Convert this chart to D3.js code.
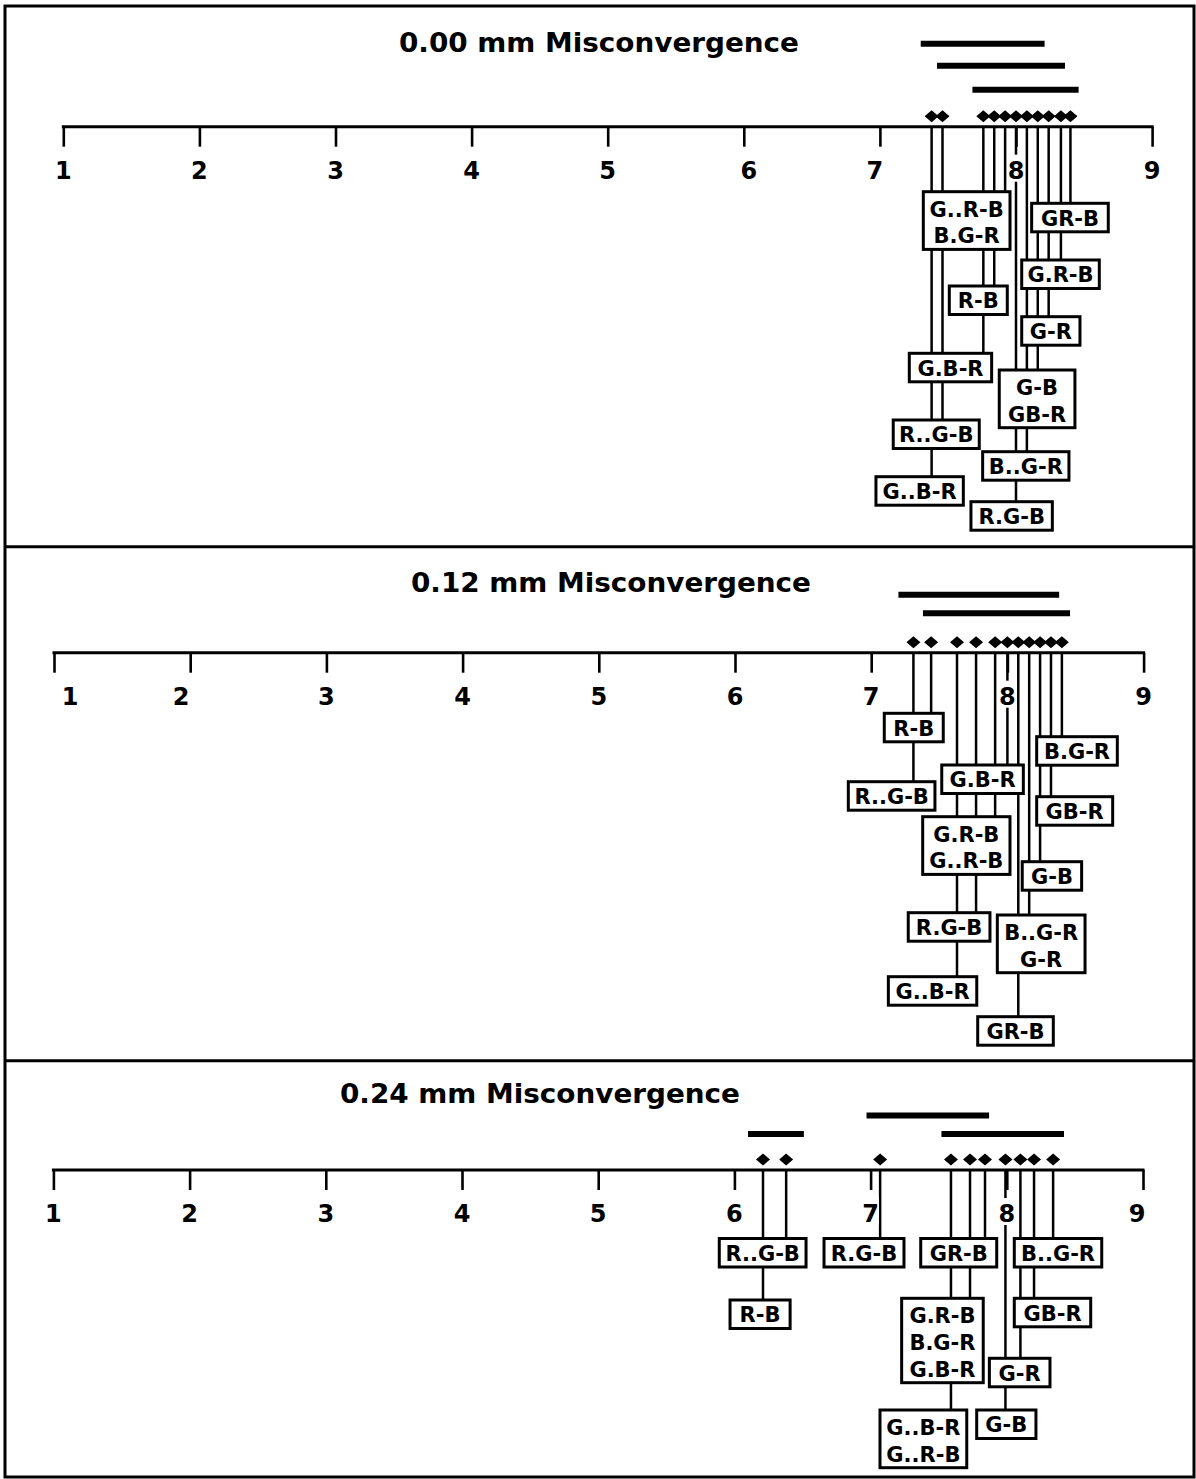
<!DOCTYPE html>
<html><head><meta charset="utf-8">
<script src="https://cdn.jsdelivr.net/npm/d3@7"></script>
<style>body{margin:0;background:#fff}svg{display:block}</style>
</head><body>
<svg id="chart" width="1196" height="1479"></svg>
<script>
// ---------------- DATA ----------------
const axisTicks = [1, 2, 3, 4, 5, 6, 7, 8, 9];
const panelTitles = ["0.00 mm Misconvergence", "0.12 mm Misconvergence", "0.24 mm Misconvergence"];

const p1Conditions = ["G..B-R","R..G-B","G.B-R","R-B","G..R-B","B.G-R","R.G-B","B..G-R","G-B","GB-R","G-R","G.R-B","GR-B"];
const p1Values     = [7.38, 7.46, 7.76, 7.84, 7.92, 7.92, 8.00, 8.08, 8.16, 8.16, 8.24, 8.33, 8.40];
const p1GroupStart = [7.30, 7.42, 7.68];
const p1GroupEnd   = [8.21, 8.36, 8.46];

const p2Conditions = ["R..G-B","R-B","G..B-R","R.G-B","G.R-B","G..R-B","G.B-R","GR-B","B..G-R","G-R","G-B","GB-R","B.G-R"];
const p2Values     = [7.31, 7.44, 7.63, 7.77, 7.91, 7.91, 8.00, 8.08, 8.16, 8.16, 8.24, 8.32, 8.40];
const p2GroupStart = [7.20, 7.38];
const p2GroupEnd   = [8.38, 8.46];

const p3Conditions = ["R-B","R..G-B","R.G-B","G..B-R","G..R-B","G.R-B","B.G-R","G.B-R","GR-B","G-B","G-R","GB-R","B..G-R"];
const p3Values     = [6.21, 6.38, 7.07, 7.59, 7.59, 7.73, 7.73, 7.73, 7.84, 7.99, 8.10, 8.20, 8.34];
const p3GroupStart = [6.10, 6.97, 7.52];
const p3GroupEnd   = [6.51, 7.87, 8.42];

// ---------------- LAYOUT (annotation placement, not data) ----------------
const layout = [
  { top: 6, bottom: 546.7, axisY: 126.7, range: [63.3, 1152.1], titleX: 399, titleY: 51.7,
    barRise: [83, 61, 37], labelNudge: {6: 5, 7: -5},
    boxes: [
      {labels: ["G..R-B","B.G-R"], x0: 7.319, x1: 7.956, dy: 65},
      {labels: ["GR-B"],  x0: 8.115, x1: 8.678, dy: 76.6},
      {labels: ["G.R-B"], x0: 8.042, x1: 8.612, dy: 133.3},
      {labels: ["R-B"],   x0: 7.510, x1: 7.936, dy: 159.3},
      {labels: ["G-R"],   x0: 8.042, x1: 8.470, dy: 190},
      {labels: ["G.B-R"], x0: 7.216, x1: 7.821, dy: 226.6},
      {labels: ["G-B","GB-R"], x0: 7.877, x1: 8.433, dy: 243.3},
      {labels: ["R..G-B"], x0: 7.098, x1: 7.730, dy: 293.3},
      {labels: ["B..G-R"], x0: 7.755, x1: 8.389, dy: 325},
      {labels: ["G..B-R"], x0: 6.971, x1: 7.613, dy: 350},
      {labels: ["R.G-B"], x0: 7.669, x1: 8.267, dy: 375}
    ]},
  { top: 546.7, bottom: 1060.7, axisY: 652.7, range: [54, 1143.6], titleX: 411, titleY: 591.7,
    barRise: [58, 39.5], labelNudge: {1: 16, 2: -9},
    boxes: [
      {labels: ["R-B"],   x0: 7.096, x1: 7.529, dy: 60.6},
      {labels: ["B.G-R"], x0: 8.215, x1: 8.807, dy: 84},
      {labels: ["G.B-R"], x0: 7.518, x1: 8.117, dy: 112.3},
      {labels: ["R..G-B"], x0: 6.832, x1: 7.468, dy: 129},
      {labels: ["GB-R"],  x0: 8.215, x1: 8.773, dy: 144},
      {labels: ["G.R-B","G..R-B"], x0: 7.378, x1: 8.019, dy: 164},
      {labels: ["G-B"],   x0: 8.109, x1: 8.545, dy: 209},
      {labels: ["R.G-B"], x0: 7.272, x1: 7.872, dy: 260},
      {labels: ["B..G-R","G-R"], x0: 7.926, x1: 8.570, dy: 262.3},
      {labels: ["G..B-R"], x0: 7.126, x1: 7.775, dy: 324},
      {labels: ["GR-B"],  x0: 7.782, x1: 8.337, dy: 364}
    ]},
  { top: 1060.7, bottom: 1477, axisY: 1170, range: [53.4, 1143], titleX: 340, titleY: 1103.3,
    barRise: [36, 54.5, 36], labelNudge: {9: -6},
    boxes: [
      {labels: ["R..G-B"], x0: 5.889, x1: 6.526, dy: 68.5},
      {labels: ["R.G-B"], x0: 6.658, x1: 7.245, dy: 68.5},
      {labels: ["GR-B"],  x0: 7.368, x1: 7.926, dy: 68.5},
      {labels: ["B..G-R"], x0: 8.055, x1: 8.697, dy: 68.5},
      {labels: ["R-B"],   x0: 5.968, x1: 6.409, dy: 130},
      {labels: ["G.R-B","B.G-R","G.B-R"], x0: 7.228, x1: 7.827, dy: 128.3},
      {labels: ["GB-R"],  x0: 8.055, x1: 8.616, dy: 128.3},
      {labels: ["G-R"],   x0: 7.872, x1: 8.317, dy: 188.3},
      {labels: ["G-B"],   x0: 7.779, x1: 8.214, dy: 240},
      {labels: ["G..B-R","G..R-B"], x0: 7.069, x1: 7.706, dy: 240}
    ]}
];

const panels = [
  {conditions: p1Conditions, values: p1Values, gStart: p1GroupStart, gEnd: p1GroupEnd},
  {conditions: p2Conditions, values: p2Values, gStart: p2GroupStart, gEnd: p2GroupEnd},
  {conditions: p3Conditions, values: p3Values, gStart: p3GroupStart, gEnd: p3GroupEnd}
];

// ---------------- DRAW ----------------
const FONT = "'DejaVu Sans', Verdana, sans-serif";
const svg = d3.select("#chart");
svg.append("rect").attr("width", 1196).attr("height", 1479).attr("fill", "#fff");

const boxH = n => n > 1 ? 31 + 26.7 * (n - 1) : 28.5;
const firstBase = n => n > 1 ? 25 : 22.4;
const diamondPath = "M0,-6L7,0L0,6L-7,0Z";

panels.forEach((p, i) => {
  const L = layout[i];
  const x = d3.scaleLinear().domain([1, 9]).range(L.range);
  const g = svg.append("g");
  const ay = L.axisY;

  // title
  g.append("text").attr("x", L.titleX).attr("y", L.titleY)
    .attr("font-family", FONT).attr("font-weight", "bold").attr("font-size", 27)
    .attr("textLength", 400).attr("lengthAdjust", "spacingAndGlyphs")
    .text(panelTitles[i]);

  // group bars (non-significant ranges)
  g.selectAll(".bar").data(p.gStart.map((s, k) => ({s, e: p.gEnd[k], rise: L.barRise[k]})))
    .enter().append("line")
    .attr("x1", d => x(d.s)).attr("x2", d => x(d.e))
    .attr("y1", d => ay - d.rise).attr("y2", d => ay - d.rise)
    .attr("stroke", "#000").attr("stroke-width", 6);

  // axis
  const axis = d3.axisBottom(x).tickValues(axisTicks).tickSize(20).tickFormat("").tickSizeOuter(0);
  const ag = g.append("g").attr("transform", `translate(0,${ay})`).call(axis);
  ag.select(".domain").attr("stroke", "#000").attr("stroke-width", 3)
    .attr("d", `M${L.range[0] - 1.5},0H${L.range[1] + 1.5}`);
  ag.selectAll(".tick line").attr("stroke", "#000").attr("stroke-width", 2.6);

  // connectors + diamonds
  const uniq = Array.from(d3.group(p.conditions.map((c, k) => ({c, v: p.values[k]})), d => d.v),
    ([v, items]) => ({v, items}));
  uniq.forEach(u => {
    u.box = L.boxes.find(bb => bb.labels.includes(u.items[0].c));
  });
  g.selectAll(".conn").data(uniq).enter().append("line")
    .attr("x1", d => x(d.v)).attr("x2", d => x(d.v))
    .attr("y1", ay).attr("y2", d => ay + d.box.dy)
    .attr("stroke", "#000").attr("stroke-width", 2.5);

  g.selectAll(".dia").data(uniq).enter().append("path")
    .attr("d", diamondPath)
    .attr("transform", d => `translate(${x(d.v)},${ay - 10.5})`)
    .attr("fill", "#000");

  // tick labels with white backgrounds
  axisTicks.forEach(t => {
    const tx = x(t) + (L.labelNudge[t] || 0);
    const bg = g.append("rect").attr("fill", "#fff");
    const tt = g.append("text").attr("x", tx).attr("y", ay + 52)
      .attr("text-anchor", "middle").attr("font-family", FONT)
      .attr("font-weight", "bold").attr("font-size", 24).text(t);
    const bb = tt.node().getBBox();
    bg.attr("x", bb.x).attr("y", ay + 28).attr("width", bb.width).attr("height", 27);
  });

  // label boxes
  L.boxes.forEach(b => {
    const n = b.labels.length;
    const x0 = x(b.x0), x1 = x(b.x1), top = ay + b.dy, h = boxH(n);
    g.append("rect").attr("x", x0).attr("y", top).attr("width", x1 - x0).attr("height", h)
      .attr("fill", "#fff").attr("stroke", "#000").attr("stroke-width", 3);
    b.labels.forEach((lab, k) => {
      g.append("text").attr("x", (x0 + x1) / 2).attr("y", top + firstBase(n) + 26.7 * k)
        .attr("text-anchor", "middle").attr("font-family", FONT)
        .attr("font-weight", "bold").attr("font-size", 21).text(lab);
    });
  });
});

// frame and separators
svg.append("rect").attr("x", 5).attr("y", 6).attr("width", 1189).attr("height", 1471)
  .attr("fill", "none").attr("stroke", "#000").attr("stroke-width", 3);
[layout[1].top, layout[2].top].forEach(yy => {
  svg.append("line").attr("x1", 5).attr("x2", 1194).attr("y1", yy).attr("y2", yy)
    .attr("stroke", "#000").attr("stroke-width", 3);
});
</script>
</body></html>
